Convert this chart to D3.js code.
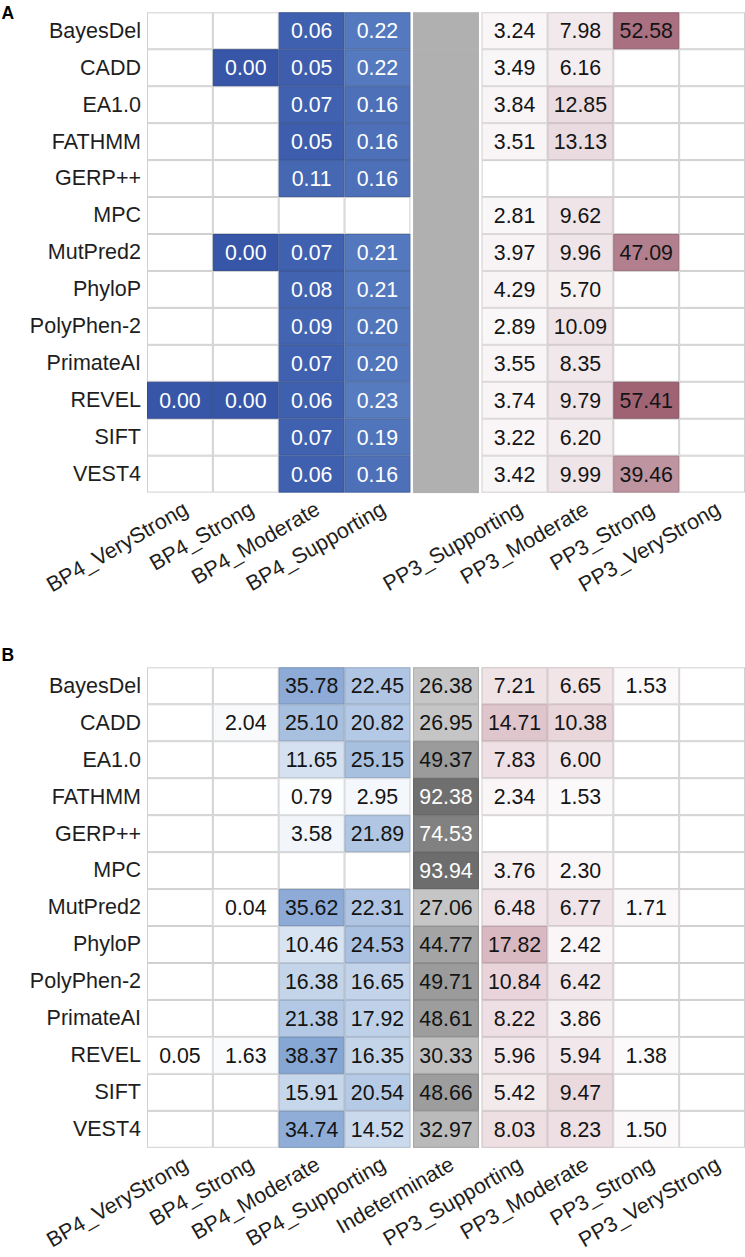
<!DOCTYPE html>
<html>
<head>
<meta charset="utf-8">
<script src="https://cdn.jsdelivr.net/npm/d3@7"></script>
<style>
  html, body { margin: 0; padding: 0; background: #ffffff; }
  svg { display: block; font-family: "Liberation Sans", Arial, Helvetica, sans-serif; }
</style>
</head>
<body>
<svg id="chart" width="745" height="1257"></svg>
<script>
// ---------------- DATA ----------------
const tools = ["BayesDel", "CADD", "EA1.0", "FATHMM", "GERP++", "MPC", "MutPred2",
  "PhyloP", "PolyPhen-2", "PrimateAI", "REVEL", "SIFT", "VEST4"];

const columnsA = ["BP4_VeryStrong", "BP4_Strong", "BP4_Moderate", "BP4_Supporting",
  "Indeterminate", "PP3_Supporting", "PP3_Moderate", "PP3_Strong", "PP3_VeryStrong"];
const columnsB = columnsA.slice();
const labelsA = ["BP4_VeryStrong", "BP4_Strong", "BP4_Moderate", "BP4_Supporting",
  "", "PP3_Supporting", "PP3_Moderate", "PP3_Strong", "PP3_VeryStrong"];
const labelsB = columnsB.slice();

// Panel A: thresholds per column (null = no value)
const aBP4VeryStrong = [null, null, null, null, null, null, null, null, null, null, 0.00, null, null];
const aBP4Strong     = [null, 0.00, null, null, null, null, 0.00, null, null, null, 0.00, null, null];
const aBP4Moderate   = [0.06, 0.05, 0.07, 0.05, 0.11, null, 0.07, 0.08, 0.09, 0.07, 0.06, 0.07, 0.06];
const aBP4Supporting = [0.22, 0.22, 0.16, 0.16, 0.16, null, 0.21, 0.21, 0.20, 0.20, 0.23, 0.19, 0.16];
const aPP3Supporting = [3.24, 3.49, 3.84, 3.51, null, 2.81, 3.97, 4.29, 2.89, 3.55, 3.74, 3.22, 3.42];
const aPP3Moderate   = [7.98, 6.16, 12.85, 13.13, null, 9.62, 9.96, 5.70, 10.09, 8.35, 9.79, 6.20, 9.99];
const aPP3Strong     = [52.58, null, null, null, null, null, 47.09, null, null, null, 57.41, null, 39.46];
const aPP3VeryStrong = [null, null, null, null, null, null, null, null, null, null, null, null, null];

// Panel B: percentages per column
const bBP4VeryStrong = [null, null, null, null, null, null, null, null, null, null, 0.05, null, null];
const bBP4Strong     = [null, 2.04, null, null, null, null, 0.04, null, null, null, 1.63, null, null];
const bBP4Moderate   = [35.78, 25.10, 11.65, 0.79, 3.58, null, 35.62, 10.46, 16.38, 21.38, 38.37, 15.91, 34.74];
const bBP4Supporting = [22.45, 20.82, 25.15, 2.95, 21.89, null, 22.31, 24.53, 16.65, 17.92, 16.35, 20.54, 14.52];
const bIndeterminate = [26.38, 26.95, 49.37, 92.38, 74.53, 93.94, 27.06, 44.77, 49.71, 48.61, 30.33, 48.66, 32.97];
const bPP3Supporting = [7.21, 14.71, 7.83, 2.34, null, 3.76, 6.48, 17.82, 10.84, 8.22, 5.96, 5.42, 8.03];
const bPP3Moderate   = [6.65, 10.38, 6.00, 1.53, null, 2.30, 6.77, 2.42, 6.42, 3.86, 5.94, 9.47, 8.23];
const bPP3Strong     = [1.53, null, null, null, null, null, 1.71, null, null, null, 1.38, null, 1.50];
const bPP3VeryStrong = [null, null, null, null, null, null, null, null, null, null, null, null, null];

// ---------------- BUILD ----------------
const valuesA = [aBP4VeryStrong, aBP4Strong, aBP4Moderate, aBP4Supporting, null,
  aPP3Supporting, aPP3Moderate, aPP3Strong, aPP3VeryStrong];
const valuesB = [bBP4VeryStrong, bBP4Strong, bBP4Moderate, bBP4Supporting, bIndeterminate,
  bPP3Supporting, bPP3Moderate, bPP3Strong, bPP3VeryStrong];

const svg = d3.select("#chart");
const gap = 2.7;
const left = 147, right = 745;

const x = d3.scaleBand().domain(columnsA).range([left, right - 2 * gap]).padding(0);
function groupOf(c) { return c.startsWith("BP4") ? 0 : (c === "Indeterminate" ? 1 : 2); }
function xPos(c) { return x(c) + groupOf(c) * gap; }

// colour scales
const blueA = d3.scaleLinear().domain([0, 0.23]).range(["#3756a8", "#567bbf"]).clamp(true);
const pinkA = d3.scaleLinear().domain([0, 60]).range(["#ffffff", "#9c5c6e"]).clamp(true);
const blueB = d3.scaleLinear().domain([0, 22, 38.4]).range(["#ffffff", "#b0c6e3", "#86a6d3"]);
const grayB = d3.scaleLinear().domain([25, 50, 95]).range(["#c9c9c9", "#9a9a9a", "#6c6c6c"]);
const pinkB = d3.scaleLinear().domain([0, 18]).range(["#ffffff", "#d8b8c1"]);

function panel(opts) {
  const { top, bottom, values, columns, labels, letter, letterY, colorFor, textFor, grayBand } = opts;
  const y = d3.scaleBand().domain(tools).range([top, bottom]).padding(0);
  const g = svg.append("g");

  const cells = [];
  columns.forEach((c, ci) => {
    tools.forEach((t, ri) => {
      const arr = values[ci];
      cells.push({ col: c, tool: t, v: arr ? arr[ri] : null, band: !arr && grayBand });
    });
  });

  // background grid (empty cells)
  g.selectAll("rect.bg").data(cells).join("rect")
    .attr("class", "bg")
    .attr("x", d => xPos(d.col) + 0.5)
    .attr("y", d => y(d.tool) + 0.5)
    .attr("width", x.bandwidth() - 1)
    .attr("height", y.bandwidth() - 1)
    .attr("fill", "#ffffff")
    .attr("stroke", "#d0d0d0")
    .attr("stroke-width", 1);

  // gray band (panel A indeterminate)
  const bandCells = cells.filter(d => d.band);
  g.selectAll("rect.band").data(bandCells).join("rect")
    .attr("class", "band")
    .attr("x", d => xPos(d.col))
    .attr("y", d => y(d.tool))
    .attr("width", x.bandwidth())
    .attr("height", y.bandwidth() + 0.5)
    .attr("fill", "#b0b0b0");

  const filled = cells.filter(d => d.v !== null && d.v !== undefined);
  g.selectAll("rect.cell").data(filled).join("rect")
    .attr("class", "cell")
    .attr("x", d => xPos(d.col) + 0.5)
    .attr("y", d => y(d.tool) + 0.5)
    .attr("width", x.bandwidth() - 1)
    .attr("height", y.bandwidth() - 1)
    .attr("fill", d => colorFor(d))
    .attr("stroke", d => d3.color(colorFor(d)).darker(0.35))
    .attr("stroke-width", 1);

  g.selectAll("text.val").data(filled).join("text")
    .attr("class", "val")
    .attr("x", d => xPos(d.col) + x.bandwidth() / 2)
    .attr("y", d => y(d.tool) + y.bandwidth() / 2)
    .attr("dy", "0.36em")
    .attr("text-anchor", "middle")
    .attr("font-size", 21.3)
    .attr("fill", d => textFor(d))
    .text(d => d.v.toFixed(2));

  // row labels (left axis)
  const yAxis = d3.axisLeft(y).tickSize(0).tickPadding(6);
  const ax = g.append("g").attr("transform", `translate(${left},0)`).call(yAxis);
  ax.select(".domain").remove();
  ax.selectAll("text").attr("font-size", 21.5).attr("fill", "#1e1e1e")
    .attr("font-family", "'Liberation Sans', Arial, Helvetica, sans-serif");

  // column labels
  g.selectAll("text.col").data(columns.map((c, i) => ({ c, label: labels[i] })).filter(d => d.label))
    .join("text")
    .attr("class", "col")
    .attr("transform", d => `translate(${xPos(d.c) + x.bandwidth() / 2},${bottom + 4}) rotate(-30)`)
    .attr("dy", "0.9em")
    .attr("text-anchor", "end")
    .attr("font-size", 21.5)
    .attr("fill", "#1e1e1e")
    .text(d => d.label);

  svg.append("text")
    .attr("x", 1.5).attr("y", letterY)
    .attr("font-size", 17.5).attr("font-weight", "bold").attr("fill", "#000")
    .text(letter);
}

panel({
  top: 12.3, bottom: 492.6, values: valuesA, columns: columnsA, labels: labelsA,
  letter: "A", letterY: 18.6, grayBand: true,
  colorFor: d => groupOf(d.col) === 0 ? blueA(d.v) : pinkA(d.v),
  textFor: d => groupOf(d.col) === 0 ? "#ffffff" : "#141414"
});

panel({
  top: 667.3, bottom: 1147.8, values: valuesB, columns: columnsB, labels: labelsB,
  letter: "B", letterY: 661, grayBand: false,
  colorFor: d => { const gi = groupOf(d.col); return gi === 0 ? blueB(d.v) : gi === 1 ? grayB(d.v) : pinkB(d.v); },
  textFor: d => (groupOf(d.col) === 1 && d.v > 65) ? "#ffffff" : "#141414"
});
</script>
</body>
</html>
